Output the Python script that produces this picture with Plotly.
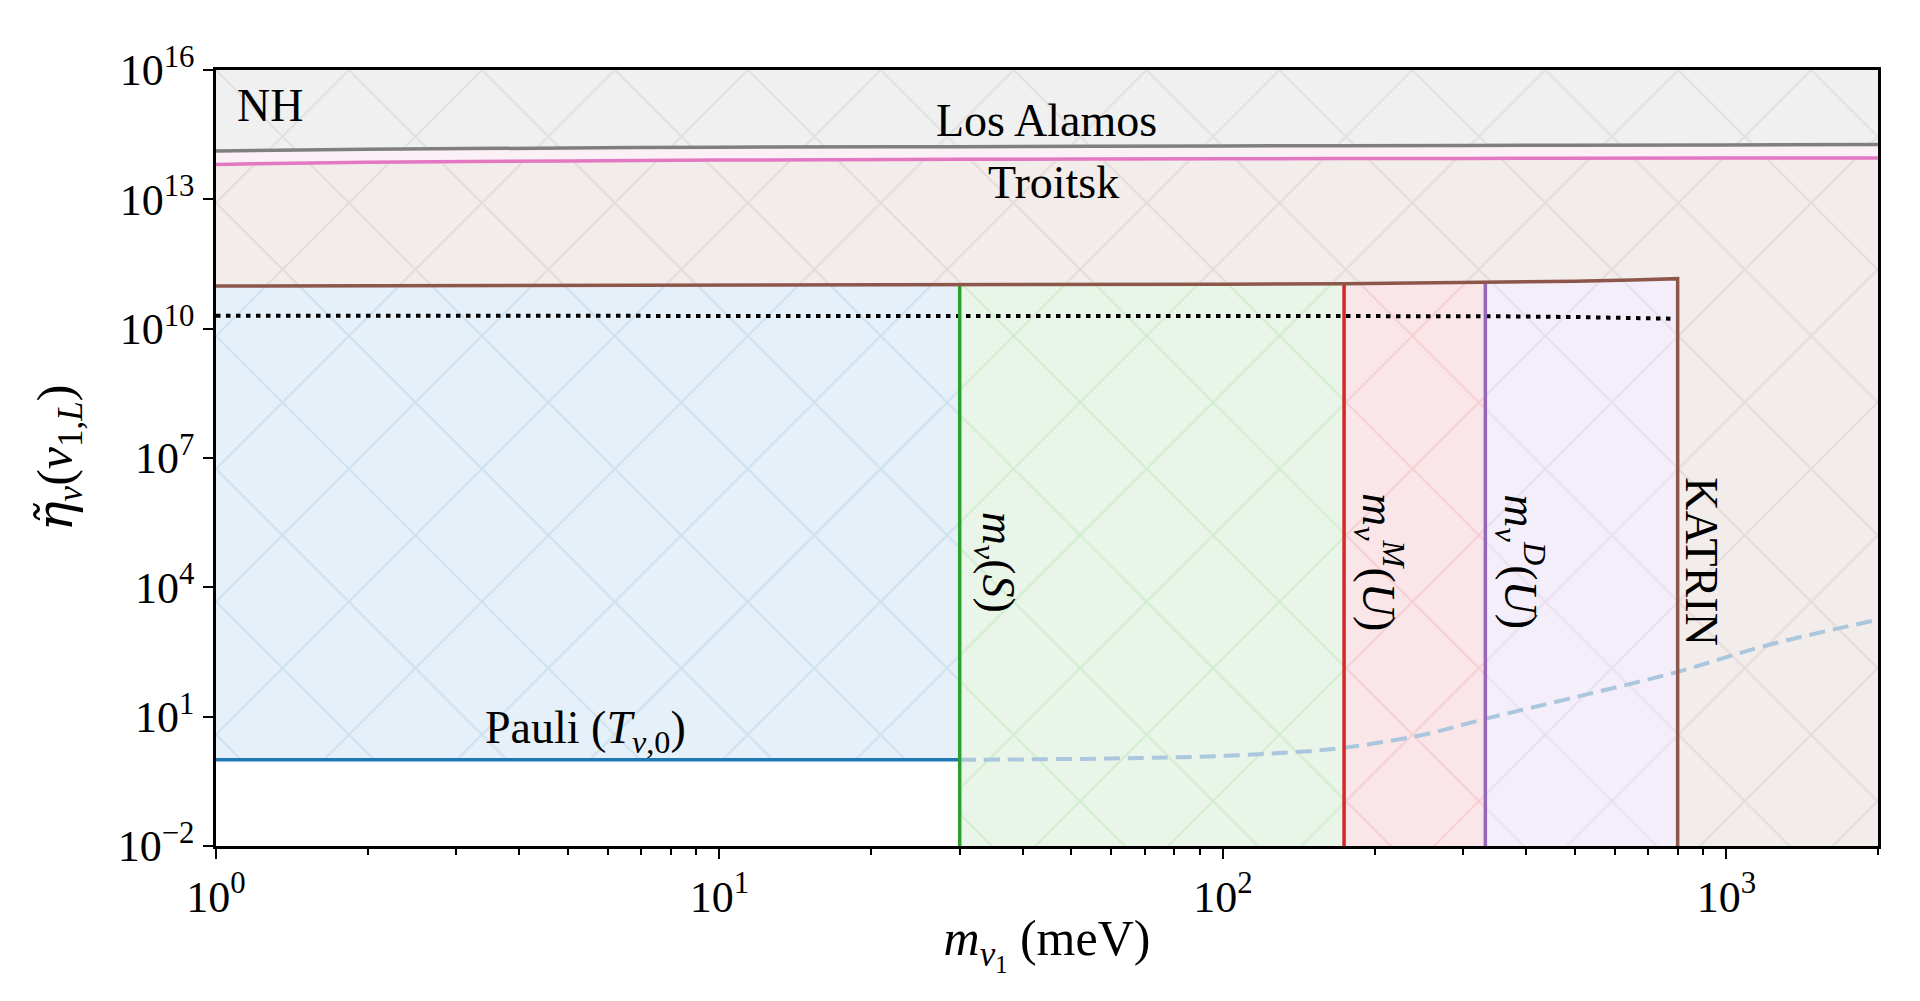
import numpy as np
import plotly.graph_objects as go

# axis limits
X_MIN, X_MAX = 1, 2000
Y_BOT, Y_TOP = 1e-2, 1e16

# Los Alamos / Troitsk bounds (same x grid)
exp_x = [1, 2, 5, 10, 30, 100, 300, 1000, 2000]
losalamos_log = [14.12, 14.16, 14.19, 14.21, 14.22, 14.24, 14.25, 14.26, 14.27]
troitsk_log = [13.81, 13.86, 13.89, 13.91, 13.93, 13.94, 13.95, 13.96, 13.96]

# KATRIN bound, ends at 800 meV
katrin_x = [1, 10, 30, 100, 174, 332, 500, 650, 800]
katrin_log = [10.99, 11.00, 11.01, 11.03, 11.04, 11.07, 11.10, 11.13, 11.16]

# dotted black curve
dotted_x = [1, 100, 332, 500, 650, 800]
dotted_log = [10.30, 10.30, 10.29, 10.27, 10.25, 10.23]

# Pauli bound
pauli_x = [1, 30]
pauli_y = 1.0

# dashed light blue curve
dash_x = [30, 60, 100, 148, 174, 250, 332, 500, 800, 1200, 2000]
dash_log = [0.0, 0.03, 0.09, 0.20, 0.28, 0.58, 0.95, 1.45, 2.04, 2.65, 3.25]

# mass bounds: m_nu(S), m^M(U), m^D(U), KATRIN
bounds = [30, 174, 332, 800]

labels = ["NH", "Los Alamos", "Troitsk", "Pauli (<i>T</i><sub><i>ν</i>,0</sub>)"]
vlabels = ["<i>m</i><sub><i>ν</i></sub>(<i>S</i>)",
           "<i>m</i><sub><i>ν</i></sub><sup><i>M</i></sup>(<i>U</i>)",
           "<i>m</i><sub><i>ν</i></sub><sup><i>D</i></sup>(<i>U</i>)",
           "KATRIN"]
vlabel_x = [35.3, 204, 390, 889]

FONT = "Liberation Serif"

los = [10 ** v for v in losalamos_log]
tro = [10 ** v for v in troitsk_log]
kat = [10 ** v for v in katrin_log]
dot = [10 ** v for v in dotted_log]
dsh = [10 ** v for v in dash_log]


def hatch(bg, fg):
    return dict(shape="x", size=94, solidity=0.045, bgcolor=bg, fgcolor=fg, fillmode="replace")


def region(xs, ys, bg, fg):
    return go.Scatter(x=xs, y=ys, mode="lines", fill="toself", line=dict(width=0),
                      fillcolor=bg, fillpattern=hatch(bg, fg), hoverinfo="skip", showlegend=False)


def seg(lo, hi):
    i0 = katrin_x.index(lo)
    i1 = katrin_x.index(hi)
    return katrin_x[i0:i1 + 1], kat[i0:i1 + 1]


fig = go.Figure()

# NH region above Los Alamos
fig.add_trace(region(exp_x + exp_x[::-1], los + [Y_TOP] * len(exp_x), "#f0f0f0", "#e2e2e2"))
# between Troitsk and Los Alamos
fig.add_trace(go.Scatter(x=exp_x + exp_x[::-1], y=tro + los[::-1], mode="lines", fill="toself",
                         line=dict(width=0), fillcolor="#fcf0f7", hoverinfo="skip", showlegend=False))
# KATRIN region
fig.add_trace(region(katrin_x + [katrin_x[-1], X_MAX] + exp_x[::-1],
                     kat + [Y_BOT, Y_BOT] + tro[::-1], "#f2edea", "#e8dbdb"))
# Pauli region
sx, sy = seg(1, bounds[0])
fig.add_trace(region(sx + pauli_x[::-1], sy + [pauli_y, pauli_y], "#e6f0f8", "#cfe2f0"))
# S / M / D regions
cols = [("#e9f5e8", "#d2eed0"), ("#fae6e8", "#f6cfd4"), ("#f3eefa", "#e8e0ee")]
for k in range(3):
    sx, sy = seg(bounds[k], bounds[k + 1])
    fig.add_trace(region(sx + [sx[-1], sx[0]], sy + [Y_BOT, Y_BOT], cols[k][0], cols[k][1]))

# curves
fig.add_trace(go.Scatter(x=dash_x, y=dsh, mode="lines", line=dict(color="#abc7de", width=4, dash="16px,8px", shape="spline"),
                         hoverinfo="skip", showlegend=False))
fig.add_trace(go.Scatter(x=exp_x, y=los, mode="lines", line=dict(color="#7f7f7f", width=3.5, shape="spline"),
                         hoverinfo="skip", showlegend=False))
fig.add_trace(go.Scatter(x=exp_x, y=tro, mode="lines", line=dict(color="#e377c2", width=3.5, shape="spline"),
                         hoverinfo="skip", showlegend=False))
fig.add_trace(go.Scatter(x=dotted_x, y=dot, mode="lines", line=dict(color="black", width=4, dash="4.5px,5.5px"),
                         hoverinfo="skip", showlegend=False))
fig.add_trace(go.Scatter(x=pauli_x, y=[pauli_y, pauli_y], mode="lines", line=dict(color="#1f77b4", width=3.5),
                         hoverinfo="skip", showlegend=False))
vcols = ["#2ca02c", "#d62728", "#9467bd"]
for k in range(3):
    b = bounds[k]
    fig.add_trace(go.Scatter(x=[b, b], y=[Y_BOT, kat[katrin_x.index(b)]], mode="lines",
                             line=dict(color=vcols[k], width=3.5), hoverinfo="skip", showlegend=False))
fig.add_trace(go.Scatter(x=katrin_x + [katrin_x[-1]], y=kat + [Y_BOT], mode="lines",
                         line=dict(color="#8c564b", width=3.5), hoverinfo="skip", showlegend=False))

# text
FS = 46
ann = [
    dict(x=np.log10(1.09), y=15.17, text=labels[0], xanchor="left"),
    dict(x=np.log10(44.7), y=14.82, text=labels[1], xanchor="center"),
    dict(x=np.log10(46.0), y=13.38, text=labels[2], xanchor="center"),
    dict(x=np.log10(5.43), y=0.66, text=labels[3], xanchor="center"),
]
for k in range(4):
    ann.append(dict(x=np.log10(vlabel_x[k]), y=4.59, text=vlabels[k], xanchor="center", textangle=90))
for a in ann:
    a.update(xref="x", yref="y", yanchor="middle", showarrow=False, font=dict(family=FONT, size=FS, color="black"))
fig.update_layout(annotations=ann)

xt = [1, 10, 100, 1000]
yt = [1e-2, 1e1, 1e4, 1e7, 1e10, 1e13, 1e16]
xminor = [m * 10 ** d for d in range(4) for m in range(2, 10) if m * 10 ** d <= X_MAX]

fig.update_xaxes(type="log", range=[np.log10(X_MIN), np.log10(X_MAX)],
                 tickvals=xt, ticktext=["10<sup>%d</sup>" % int(np.log10(v)) for v in xt],
                 ticks="outside", ticklen=10, tickwidth=2, tickcolor="black",
                 minor=dict(tickvals=xminor, ticks="outside", ticklen=6, tickwidth=1.5, tickcolor="black"),
                 showline=True, linecolor="black", linewidth=2.5, mirror=True, showgrid=False, zeroline=False,
                 title=dict(text="<i>m</i><sub><i>ν</i><sub>1</sub></sub> (meV)", standoff=0),
                 tickfont=dict(family=FONT, size=44, color="black"))
fig.update_yaxes(type="log", range=[np.log10(Y_BOT), np.log10(Y_TOP)],
                 tickvals=yt, ticktext=["10<sup>%s</sup>" % str(int(round(np.log10(v)))).replace("-", "−") for v in yt],
                 ticks="outside", ticklen=10, tickwidth=2, tickcolor="black",
                 showline=True, linecolor="black", linewidth=2.5, mirror=True, showgrid=False, zeroline=False,
                 title=dict(text="<span style=\"font-family:'DejaVu Serif'\"><i>η̃</i></span><sub><i>ν</i></sub>(<i>ν</i><sub>1,<i>L</i></sub>)",
                            standoff=30),
                 tickfont=dict(family=FONT, size=44, color="black"))

fig.update_layout(
    width=1920, height=1001,
    margin=dict(l=208, r=50, t=62, b=163),
    plot_bgcolor="white", paper_bgcolor="white",
    font=dict(family=FONT, size=42, color="black"),
    showlegend=False,
)

fig.write_html("out.html")
